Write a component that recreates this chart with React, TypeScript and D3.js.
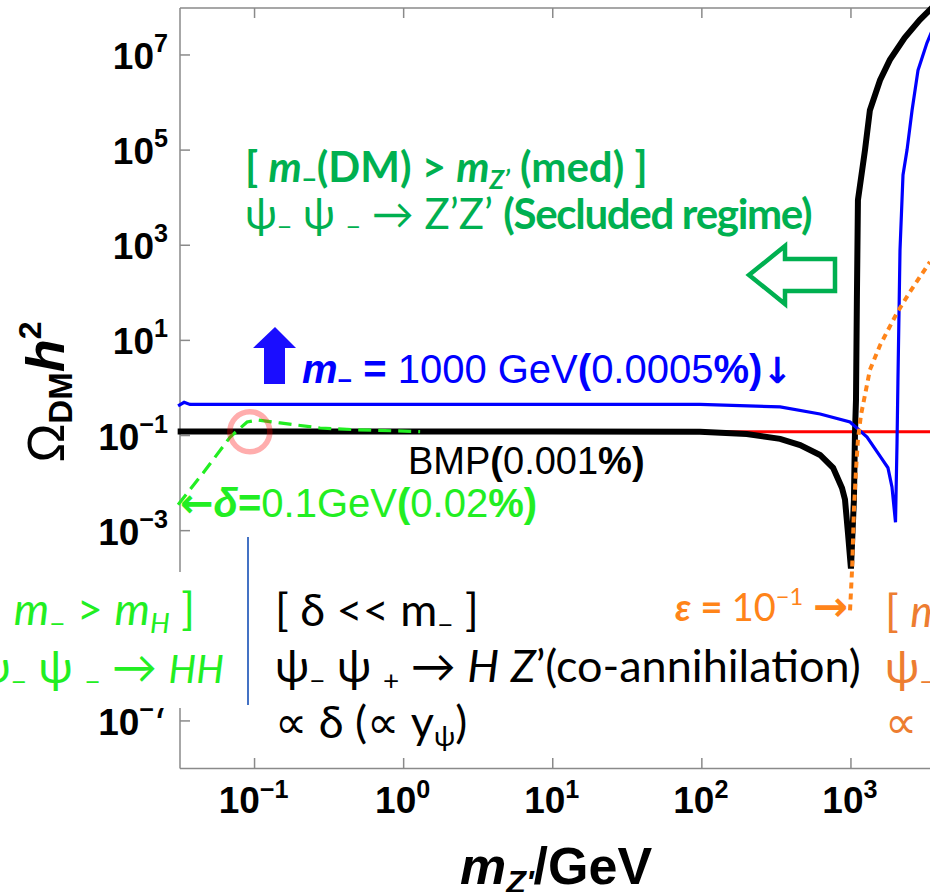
import React from "react";
import * as d3 from "d3";

// ---------- data ----------
const xTickValues = [0.1, 1, 10, 100, 1000];
const xTickExps = ["−1", "0", "1", "2", "3"];
const yTickValues = [1e7, 1e5, 1e3, 1e1, 1e-1, 1e-3, 1e-5, 1e-7];
const yTickExps = ["7", "5", "3", "1", "−1", "−3", "−5", "−7"];

const planckOmega = 0.12;

// BMP (black)
const bmpMass = [0.0305, 1, 10, 97, 200, 335, 456, 621, 759, 871, 912, 955, 1000, 1047, 1064, 1081, 1096, 1114, 1242, 1340, 1567, 1824, 2291, 2897, 3631];
const bmpOmega = [0.121, 0.121, 0.121, 0.12, 0.108, 0.085, 0.063, 0.039, 0.021, 0.0079, 0.0045, 0.00089, 0.00016, 0.0045, 0.11, 0.56, 71, 8900, 1e5, 6.9e5, 2.95e6, 7.9e6, 2.3e7, 5.5e7, 1.1e8];

// m- = 1000 GeV (blue)
const heavyMass = [0.0307, 0.0337, 0.0369, 0.043, 1, 10, 97, 335, 621, 986, 1282, 1567, 1770, 1884, 1990, 2037, 2065, 2133, 2234, 2377, 2570, 2818, 3236, 3631];
const heavyOmega = [0.42, 0.5, 0.45, 0.45, 0.45, 0.45, 0.45, 0.40, 0.284, 0.193, 0.093, 0.037, 0.021, 0.0083, 0.0015, 0.069, 1.27, 794, 3.0e4, 1e5, 6.9e5, 4.8e6, 1.8e7, 4.3e7];

// epsilon = 0.1 (orange dotted)
const epsMass = [986, 1019, 1047, 1081, 1114, 1167, 1242, 1340, 1567, 2037, 2489, 3388];
const epsOmega = [2.1e-5, 1.7e-4, 0.0027, 0.019, 0.081, 0.27, 0.71, 2.4, 7.9, 38, 105, 447];

// delta = 0.1 GeV (green dashed)
const deltaMass = [0.0307, 0.0452, 0.0686, 0.0891, 0.1054, 0.148, 0.275, 0.486, 1.29];
const deltaOmega = [0.0035, 0.0163, 0.093, 0.193, 0.212, 0.184, 0.144, 0.132, 0.121];

// ---------- styling ----------
const FA = "'Liberation Sans', Arial, sans-serif";
const FC = "Lato, 'Open Sans', 'DejaVu Sans', sans-serif";
const FD = "'DejaVu Sans', sans-serif";

type Seg = { t: string; b?: boolean; i?: boolean; sub?: boolean; sup?: boolean; s?: number; sh?: number; dx?: number; f?: string; ls?: number };

function Rich(props: { x: number; y: number; segs: Seg[]; size: number; family: string; fill: string; anchor?: string; subShift?: number; supShift?: number; scale?: number }) {
  const { x, y, segs, size, family, fill, anchor } = props;
  const subShift = props.subShift ?? size * 0.2;
  const supShift = props.supShift ?? size * 0.45;
  const sc = props.scale ?? 0.62;
  let cur = 0;
  return (
    <text x={x} y={y} fontSize={size} fontFamily={family} fill={fill} textAnchor={anchor || "start"} style={{ whiteSpace: "pre" }}>
      {segs.map((g, k) => {
        const fs = g.s ?? (g.sub || g.sup ? size * sc : size);
        const target = g.sh !== undefined ? g.sh : g.sub ? subShift : g.sup ? -supShift : 0;
        const dy = target - cur;
        cur = target;
        return (
          <tspan key={k} dy={dy} dx={g.dx} fontSize={fs} fontFamily={g.f} letterSpacing={g.ls}
            fontWeight={g.b ? "bold" : "normal"} fontStyle={g.i ? "italic" : "normal"}>
            {g.t}
          </tspan>
        );
      })}
    </text>
  );
}

export default function App() {
  const xS = d3.scaleLog().domain([Math.pow(10, -1.5), 1e4]).range([180, 180 + 5.5 * 149.1]);
  const yS = d3.scaleLog().domain([1e-8, 1e8]).range([768.5, 7.4]);
  const line = d3.line<[number, number]>().x((d) => xS(d[0])).y((d) => yS(d[1]));
  const zip = (a: number[], b: number[]) => a.map((v, k) => [v, b[k]] as [number, number]);

  const axisColor = "#8a8a8a";
  const bmpColor = "#000000";
  const heavyColor = "#0000ff";
  const epsColor = "#ff8419";
  const deltaColor = "#22ee22";
  const secludedColor = "#00b050";
  const orangeText = "#ed7d31";

  return (
    <div style={{ position: "absolute", left: 0, top: 0 }}>
      <svg width={930} height={892} style={{ display: "block", background: "#fff" }}>
        <defs>
          <clipPath id="plot">
            <rect x={176} y={4} width={900} height={766} />
          </clipPath>
        </defs>
        <rect x={0} y={0} width={930} height={892} fill="#fff" />

        {/* frame */}
        <line x1={180} y1={8} x2={180} y2={768.5} stroke={axisColor} strokeWidth={1.5} />
        <line x1={180} y1={768.5} x2={930} y2={768.5} stroke={axisColor} strokeWidth={1.5} />
        <line x1={180} y1={8} x2={930} y2={8} stroke={axisColor} strokeWidth={1.5} />
        {xTickValues.map((v) => (
          <g key={"xt" + v}>
            <line x1={xS(v)} x2={xS(v)} y1={768.5} y2={758} stroke={axisColor} strokeWidth={1.5} />
            <line x1={xS(v)} x2={xS(v)} y1={8} y2={18} stroke={axisColor} strokeWidth={1.5} />
          </g>
        ))}
        {yTickValues.map((v) => (
          <line key={"yt" + v} x1={180} x2={190} y1={yS(v)} y2={yS(v)} stroke={axisColor} strokeWidth={1.5} />
        ))}

        {/* tick labels */}
        {yTickValues.map((v, k) => (
          <Rich key={"yl" + v} x={168} y={yS(v) + 14} anchor="end" size={37} family={FA} fill="#000" supShift={17} scale={0.68}
            segs={[{ t: "10", b: true }, { t: yTickExps[k], b: true, sup: true }]} />
        ))}
        {xTickValues.map((v, k) => (
          <Rich key={"xl" + v} x={xS(v) - 1} y={813} anchor="middle" size={37} family={FA} fill="#000" supShift={15} scale={0.68}
            segs={[{ t: "10", b: true }, { t: xTickExps[k], b: true, sup: true }]} />
        ))}

        {/* axis titles */}
        <Rich x={460} y={884} size={52} family={FA} fill="#000" subShift={9} scale={0.62}
          segs={[{ t: "m", b: true, i: true }, { t: "Z'", b: true, i: true, sub: true }, { t: "/GeV", b: true }]} />
        <g transform="translate(64,392) rotate(-90)">
          <Rich x={0} y={0} anchor="middle" size={48} family={FA} fill="#000"
            segs={[{ t: "Ω", s: 52 }, { t: "DM", b: true, s: 33, sh: 8 }, { t: "h", b: true, i: true, s: 54, sh: 0 }, { t: "2", b: true, s: 32, sh: -23 }]} />
        </g>

        {/* curves */}
        <g clipPath="url(#plot)">
          <line x1={180} x2={1100} y1={yS(planckOmega)} y2={yS(planckOmega)} stroke="#ff0000" strokeWidth={3} />
          <path d={line(zip(bmpMass, bmpOmega)) || ""} fill="none" stroke={bmpColor} strokeWidth={6} />
          <path d={line(zip(heavyMass, heavyOmega)) || ""} fill="none" stroke={heavyColor} strokeWidth={3.2} />
          <path d={line(zip(epsMass, epsOmega)) || ""} fill="none" stroke={epsColor} strokeWidth={4} strokeDasharray="6 5" />
          <path d={line(zip(deltaMass, deltaOmega)) || ""} fill="none" stroke={deltaColor} strokeWidth={3.2} strokeDasharray="13 7" />
        </g>

        {/* highlight circle */}
        <circle cx={xS(0.093)} cy={yS(planckOmega)} r={20} fill="none" stroke="#ff0000" strokeOpacity={0.32} strokeWidth={5.5} />

        {/* white box covering axis */}
        <rect x={0} y={572} width={246} height={136} fill="#fff" />
        <line x1={248} x2={248} y1={537} y2={705} stroke="#4472c4" strokeWidth={2} />

        {/* arrows */}
        <path d="M749,275 L785,246 L785,259 L835,259 L835,291 L785,291 L785,304 Z" fill="#fff" stroke={secludedColor} strokeWidth={4.5} />
        <path d="M275,327 L296,348 L285,348 L285,384 L264,384 L264,348 L253,348 Z" fill="#1a0dff" />

        {/* secluded annotation */}
        <Rich x={245} y={182} size={42} family={FC} fill={secludedColor} subShift={7}
          segs={[{ t: "[ ", b: true }, { t: "m", b: true, i: true }, { t: "−", b: true, sub: true }, { t: "(DM) > ", b: true }, { t: "m", b: true, i: true }, { t: "Z’", b: true, i: true, sub: true }, { t: " (med) ]", b: true }]} />
        <Rich x={245} y={229} size={42} family={FC} fill={secludedColor} subShift={7}
          segs={[{ t: "ψ" }, { t: "−", sub: true }, { t: " ψ " }, { t: "−", sub: true }, { t: " → Z’Z’ " }, { t: "(Secluded regime)", b: true, ls: -1.3 }]} />

        {/* heavy label */}
        <Rich x={302} y={383} size={40} family={FA} fill={heavyColor} subShift={6}
          segs={[{ t: "m", b: true, i: true }, { t: "−", b: true, sub: true }, { t: " = ", b: true }, { t: "1000 GeV" }, { t: "(", b: true }, { t: "0.0005" }, { t: "%)", b: true }, { t: "↓", b: true, f: FD, s: 36 }]} />

        {/* BMP label */}
        <Rich x={408} y={474} size={38} family={FA} fill="#000"
          segs={[{ t: "BMP" }, { t: "(", b: true }, { t: "0.001" }, { t: "%)", b: true }]} />

        {/* delta label */}
        <Rich x={180} y={517} size={40} family={FA} fill={deltaColor}
          segs={[{ t: "←", b: true, f: FD, s: 40 }, { t: "δ", b: true, i: true }, { t: "=", b: true }, { t: "0.1GeV" }, { t: "(", b: true }, { t: "0.02" }, { t: "%)", b: true }]} />

        {/* epsilon label */}
        <Rich x={675} y={621} size={38} family={FC} fill={epsColor} supShift={16}
          segs={[{ t: "ε", b: true, i: true }, { t: " = ", b: true }, { t: "10" }, { t: "−1", sup: true }, { t: " " }, { t: "→", b: true, f: FD, s: 42 }]} />

        {/* left green box */}
        <Rich x={195} y={625} anchor="end" size={45} family={FC} fill={deltaColor} subShift={8}
          segs={[{ t: "[      " }, { t: "m", i: true }, { t: "−", sub: true }, { t: " > " }, { t: "m", i: true }, { t: "H", i: true, sub: true }, { t: " ]" }]} />
        <Rich x={224} y={683} anchor="end" size={45} family={FC} fill={deltaColor} subShift={8}
          segs={[{ t: "ψ" }, { t: "−", sub: true }, { t: " ψ " }, { t: "−", sub: true }, { t: " → " }, { t: "HH", i: true, s: 39 }]} />

        {/* black co-annihilation box */}
        <Rich x={275} y={626} size={45} family={FC} fill="#000" subShift={8}
          segs={[{ t: "[ δ << m" }, { t: "−", sub: true }, { t: " ]" }]} />
        <Rich x={275} y={682} size={45} family={FC} fill="#000" subShift={8}
          segs={[{ t: "ψ" }, { t: "−", sub: true }, { t: " ψ " }, { t: "+", sub: true }, { t: " → " }, { t: "H", i: true }, { t: " " }, { t: "Z", i: true }, { t: "’(co-annihilation)" }]} />
        <Rich x={275} y={738} size={45} family={FC} fill="#000" subShift={8}
          segs={[{ t: "∝ δ (∝ y" }, { t: "ψ", sub: true }, { t: ")" }]} />

        {/* orange box (cropped) */}
        <Rich x={885} y={627} size={45} family={FC} fill={orangeText} subShift={8}
          segs={[{ t: "[ " }, { t: "m", i: true }, { t: "−", sub: true }, { t: " < " }, { t: "m", i: true }, { t: " ]" }]} />
        <Rich x={885} y={683} size={45} family={FC} fill={orangeText} subShift={8}
          segs={[{ t: "ψ" }, { t: "−", sub: true }, { t: " ψ " }, { t: "−", sub: true }, { t: " → " }]} />
        <Rich x={885} y={738} size={45} family={FC} fill={orangeText}
          segs={[{ t: "∝ ε" }, { t: "2", sup: true }]} />
      </svg>
    </div>
  );
}
